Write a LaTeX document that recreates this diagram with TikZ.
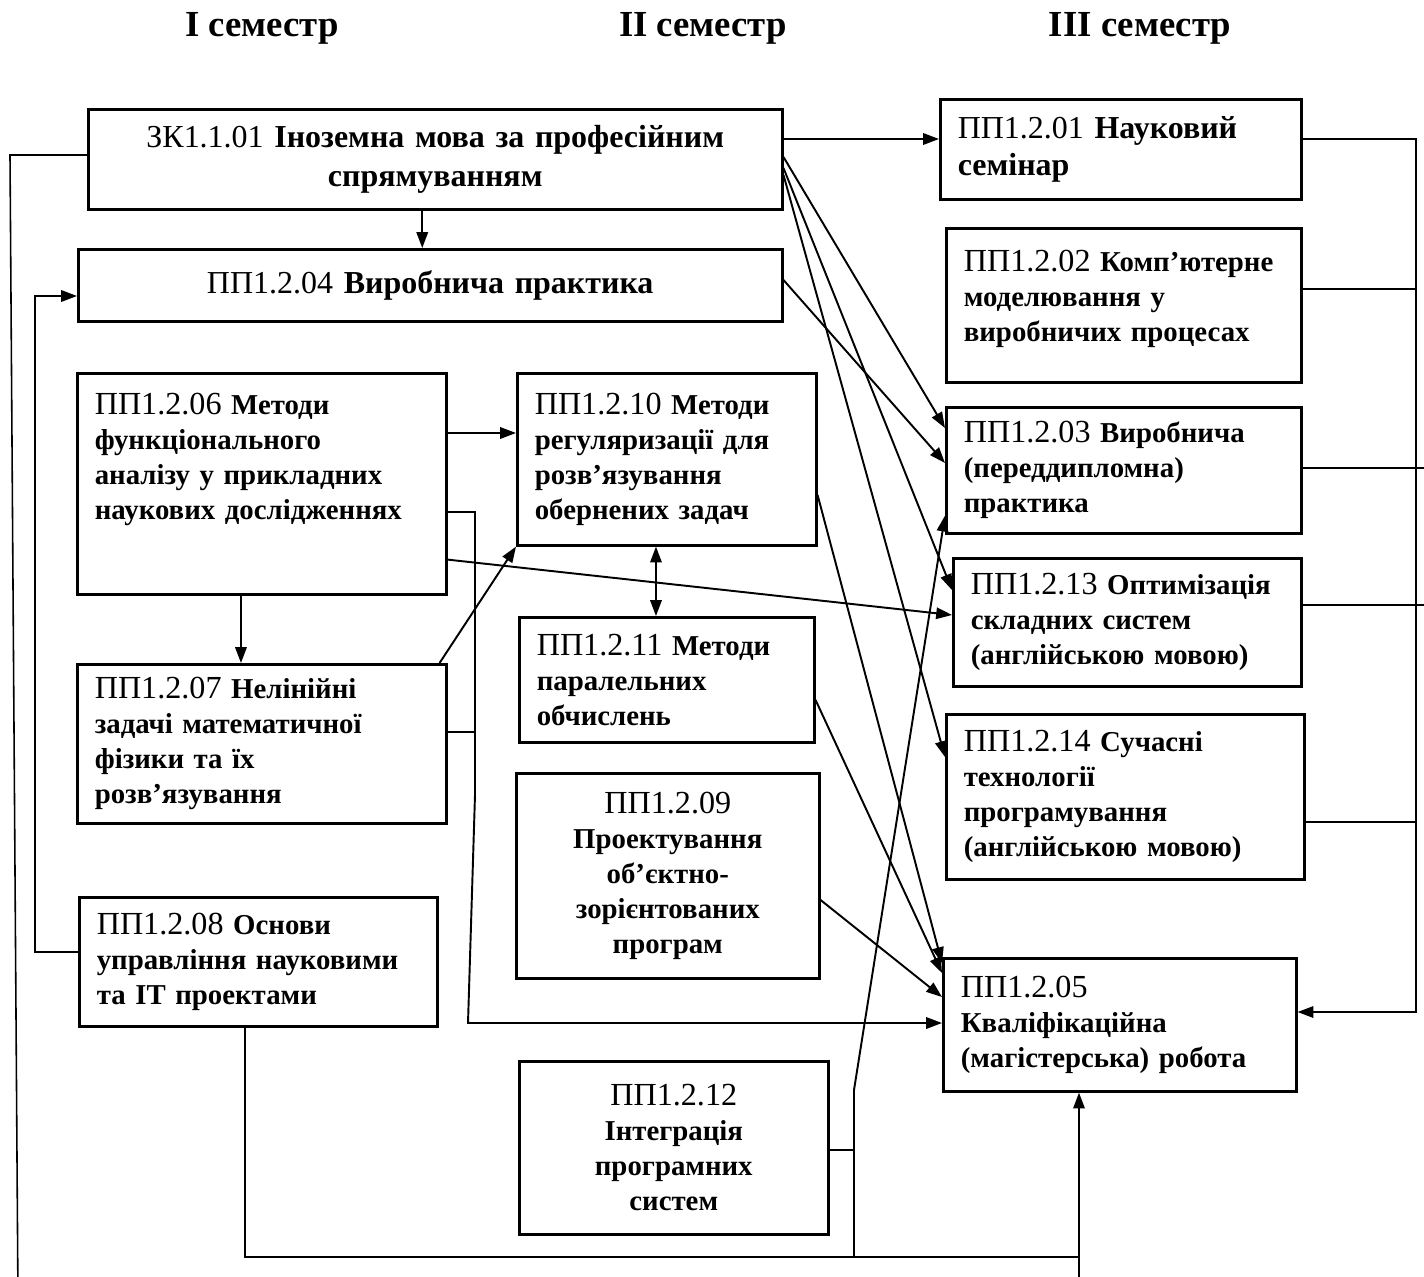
\documentclass[tikz,border=0pt]{standalone}
\usepackage{fontspec}
\setmainfont{Liberation Serif}
\usetikzlibrary{arrows.meta, positioning, calc}
\newcommand{\ccode}[1]{{\fontsize{18.3}{19.9}\selectfont #1}}

\begin{document}
\begin{tikzpicture}[x=0.02cm, y=-0.02cm,
    course/.style={rectangle, draw, line width=1.5pt, anchor=north west, inner xsep=0.35cm, inner ysep=0pt, align=left, font=\fontsize{16.4}{19.9}\selectfont},
    coursec/.style={course, align=center},
    bigcourse/.style={course, font=\fontsize{18.2}{22}\selectfont},
    sem/.style={font=\fontsize{20.9}{25}\selectfont\bfseries},
    arrow/.style={-{Triangle[length=9pt,width=6.5pt]}, line width=1.1pt},
    darrow/.style={{Triangle[length=9pt,width=6.5pt]}-{Triangle[length=9pt,width=6.5pt]}, line width=1.1pt},
    link/.style={line width=0.9pt}]

    \useasboundingbox (0,0) rectangle (1424,1276);

    % Semesters
    \node [sem] (t1) at (262,28) {I семестр};
    \node [sem] (t2) at (703,28) {II семестр};
    \node [sem] (t3) at (1140,28) {III семестр};

    % I semester
    \node [bigcourse, align=center, minimum width=13.88cm, minimum height=2cm, text width=13.18cm] (zk) at (87,108) {ЗК1.1.01 \textbf{Іноземна мова за професійним\\ спрямуванням}};
    \node [bigcourse, align=center, minimum width=14.08cm, minimum height=1.44cm, text width=13.38cm] (s04) at (77,248) {ПП1.2.04 \textbf{Виробнича практика}};
    \node [course, minimum width=7.38cm, minimum height=4.42cm, text width=6.68cm] (s06) at (76,372) {\ccode{ПП1.2.06} \textbf{Методи\\ функціонального\\ аналізу~у~прикладних\\ наукових~дослідженнях}\\[11pt]\mbox{}};
    \node [course, minimum width=7.38cm, minimum height=3.18cm, text width=6.68cm] (s07) at (76,663) {\ccode{ПП1.2.07} \textbf{Нелінійні\\ задачі~математичної\\ фізики та їх\\ розв’язування}};
    \node [course, minimum width=7.16cm, minimum height=2.58cm, text width=6.46cm] (s08) at (78,896) {\ccode{ПП1.2.08} \textbf{Основи\\ управління~науковими\\ та IT проектами}};

    % II semester
    \node [course, minimum width=5.98cm, minimum height=3.44cm, text width=5.28cm] (s10) at (516,372) {\ccode{ПП1.2.10} \textbf{Методи\\ регуляризації~для\\ розв’язування\\ обернених~задач}};
    \node [course, minimum width=5.9cm, minimum height=2.5cm, text width=5.2cm] (s11) at (518,616) {\ccode{ПП1.2.11} \textbf{Методи\\ паралельних\\ обчислень}};
    \node [coursec, minimum width=6.06cm, minimum height=4.1cm, text width=5.36cm] (s09) at (515,772) {\ccode{ПП1.2.09}\\ \textbf{Проектування\\ об’єктно-\\ зорієнтованих\\ програм}};
    \node [coursec, minimum width=6.18cm, minimum height=3.46cm, text width=5.48cm] (s12) at (518,1060) {\ccode{ПП1.2.12}\\ \textbf{Інтеграція\\ програмних\\ систем}};

    % III semester
    \node [bigcourse, font=\fontsize{18.2}{21}\selectfont, minimum width=7.22cm, minimum height=2cm, text width=6.52cm] (s01) at (939,98) {ПП1.2.01 \textbf{Науковий\\ семінар}};
    \node [course, minimum width=7.1cm, minimum height=3.08cm, text width=6.4cm] (s02) at (945,227) {\ccode{ПП1.2.02}~\textbf{Комп’ютерне\\ моделювання у\\ виробничих~процесах}\\[-8.6pt]\mbox{}};
    \node [course, minimum width=7.1cm, minimum height=2.52cm, text width=6.4cm] (s03) at (945,406) {\ccode{ПП1.2.03} \textbf{Виробнича\\ (переддипломна)\\ практика}};
    \node [course, minimum width=6.96cm, minimum height=2.56cm, text width=6.26cm] (s13) at (952,557) {\ccode{ПП1.2.13}~\textbf{Оптимізація\\ складних~систем\\ (англійською~мовою)}};
    \node [course, minimum width=7.16cm, minimum height=3.3cm, text width=6.46cm] (s14) at (945,713) {\ccode{ПП1.2.14} \textbf{Сучасні\\ технології\\ програмування\\ (англійською~мовою)}};
    \node [course, minimum width=7.06cm, minimum height=2.66cm, text width=6.36cm] (s05) at (942,957) {\ccode{ПП1.2.05}\\ \textbf{Кваліфікаційна\\ (магістерська)~робота}};

    % Helper points
    \coordinate (zkA) at ([yshift=-0.62cm]zk.north east);
    \coordinate (zkB) at ([xshift=-0.26cm]zk.south);
    \coordinate (a6) at ([yshift=-1.22cm]s06.north east);
    \coordinate (b6) at ([xshift=3.3cm]s06.south west);
    \coordinate (a7) at ([yshift=-1.38cm]s07.north east);
    \coordinate (a8) at ([yshift=-1.12cm]s08.north west);
    \coordinate (c10) at ([xshift=2.8cm]s10.south west);
    \coordinate (a12) at ([yshift=-1.8cm]s12.north east);
    \coordinate (j1) at (475,795);
    \coordinate (j2) at (468,1023);
    \coordinate (k1) at (854,1090);
    \coordinate (k2) at (854,1257);
    \coordinate (bus) at (1079,1257);
    \coordinate (rb) at (1416,1012);
    \coordinate (r1) at ([yshift=-0.82cm]s01.north east);
    \coordinate (r2) at ([yshift=-1.24cm]s02.north east);
    \coordinate (r3) at ([yshift=-1.24cm]s03.north east);
    \coordinate (r13) at ([yshift=-0.96cm]s13.north east);
    \coordinate (r14) at ([yshift=-2.18cm]s14.north east);

    % Arrows from ZK1.1.01
    \draw [arrow] (zkA) -- (zkA -| s01.west);
    \draw [arrow] (zkB) -- (zkB |- s04.north);
    \draw [arrow] ([yshift=-0.98cm]zk.north east) -- ([yshift=-0.44cm]s03.north west);
    \draw [arrow] ([yshift=-1.2cm]zk.north east) -- ([yshift=-0.66cm]s13.north west);
    \draw [arrow] ([yshift=-1.34cm]zk.north east) -- ([yshift=-0.88cm]s14.north west);
    \draw [link] ([yshift=-0.94cm]zk.north west) -- (10,155) -- (18,1300) -| (bus);

    % Arrows of I semester
    \draw [arrow] ([yshift=-0.64cm]s04.north east) -- ([yshift=-1.14cm]s03.north west);
    \draw [arrow] (a6) -- (a6 -| s10.west);
    \draw [arrow] (b6) -- (b6 |- s07.north);
    \draw [arrow] ([yshift=0.72cm]s06.south east) -- ([yshift=-1.16cm]s13.north west);
    \draw [arrow] ([xshift=-0.16cm]s07.north east) -- (s10.south west);
    \draw [arrow] ([yshift=-2.8cm]s06.north east) -| (j1) -- (j2) -- (j2 -| s05.west);
    \draw [link] (a7) -- (a7 -| j1);
    \draw [arrow] (a8) -- ++(-43,0) |- ([yshift=-0.96cm]s04.north west);
    \draw [arrow] ([xshift=3.34cm]s08.south west) |- (bus) -- (bus |- s05.south);

    % Arrows of II semester
    \draw [darrow] (c10) -- (c10 |- s11.north);
    \draw [arrow] ([yshift=-2.46cm]s10.north east) -- ([yshift=-0.12cm]s05.north west);
    \draw [arrow] ([yshift=-1.68cm]s11.north east) -- ([yshift=-0.32cm]s05.north west);
    \draw [arrow] ([yshift=-2.56cm]s09.north east) -- ([yshift=-0.8cm]s05.north west);
    \draw [link] (a12) -- (a12 -| k1);
    \draw [arrow] (k2) -- (k1) -- ([yshift=0.38cm]s03.south west);

    % III semester to ПП1.2.05
    \draw [arrow] (r1) -| (rb) -- (rb -| s05.east);
    \draw [link] (r2) -- (r2 -| rb);
    \draw [link] (r3) -- (r3 -| rb) -- ++(8,0);
    \draw [link] (r13) -- (r13 -| rb) -- ++(8,0);
    \draw [link] (r14) -- (r14 -| rb);

\end{tikzpicture}
\end{document}
